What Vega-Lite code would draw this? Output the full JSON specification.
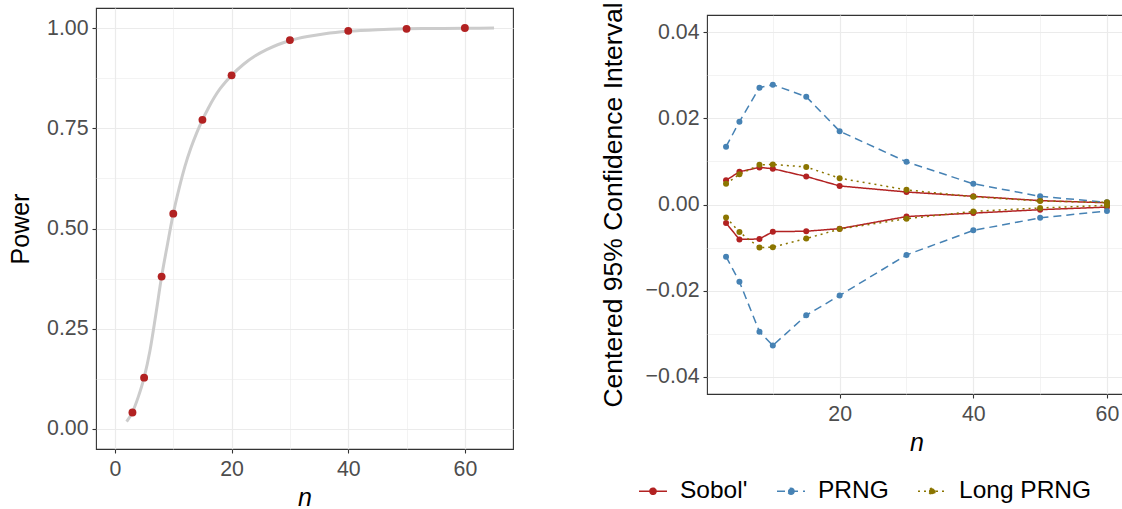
{
  "$schema": "https://vega.github.io/schema/vega-lite/v6.json",
  "autosize": {"type": "none"},
  "padding": {"left": 96, "top": 8, "right": 1026, "bottom": 501},
  "background": "white",
  "config": {
    "font": "Liberation Sans",
    "view": {"stroke": "#333333", "strokeWidth": 1.1},
    "axis": {
      "domain": false,
      "tickColor": "#333333",
      "tickSize": 4,
      "tickWidth": 1.1,
      "labelColor": "#4D4D4D",
      "labelFontSize": 21.3,
      "labelFont": "Liberation Sans",
      "labelFlush": false,
      "labelOverlap": false,
      "titleColor": "#000000",
      "titleFont": "Liberation Sans",
      "titleFontWeight": "normal",
      "gridColor": "#EBEBEB"
    }
  },
  "datasets": {
    "curve": [
      {"n": 2, "power": 0.018}, {"n": 3, "power": 0.042}, {"n": 4, "power": 0.08}, {"n": 5, "power": 0.128},
      {"n": 6, "power": 0.195}, {"n": 7, "power": 0.285}, {"n": 8, "power": 0.38}, {"n": 9, "power": 0.46},
      {"n": 10, "power": 0.537}, {"n": 11, "power": 0.6}, {"n": 12, "power": 0.655}, {"n": 13, "power": 0.7},
      {"n": 14, "power": 0.738}, {"n": 15, "power": 0.771}, {"n": 16, "power": 0.8}, {"n": 17, "power": 0.826},
      {"n": 18, "power": 0.848}, {"n": 19, "power": 0.866}, {"n": 20, "power": 0.882}, {"n": 22, "power": 0.909},
      {"n": 24, "power": 0.93}, {"n": 26, "power": 0.946}, {"n": 28, "power": 0.959}, {"n": 30, "power": 0.969},
      {"n": 33, "power": 0.979}, {"n": 36, "power": 0.986}, {"n": 40, "power": 0.992}, {"n": 45, "power": 0.996},
      {"n": 50, "power": 0.998}, {"n": 55, "power": 0.999}, {"n": 60, "power": 0.9995}, {"n": 65, "power": 1.0}
    ],
    "power": [
      {"n": 3, "power": 0.041}, {"n": 5, "power": 0.128}, {"n": 8, "power": 0.38}, {"n": 10, "power": 0.537},
      {"n": 15, "power": 0.771}, {"n": 20, "power": 0.882}, {"n": 30, "power": 0.970}, {"n": 40, "power": 0.993},
      {"n": 50, "power": 0.998}, {"n": 60, "power": 1.0}
    ],
    "ci": [
      {"series": "Sobol'", "bound": "upper", "n": 3, "value": 0.0056},
      {"series": "Sobol'", "bound": "upper", "n": 5, "value": 0.0076},
      {"series": "Sobol'", "bound": "upper", "n": 8, "value": 0.0086},
      {"series": "Sobol'", "bound": "upper", "n": 10, "value": 0.0083},
      {"series": "Sobol'", "bound": "upper", "n": 15, "value": 0.0065},
      {"series": "Sobol'", "bound": "upper", "n": 20, "value": 0.0043},
      {"series": "Sobol'", "bound": "upper", "n": 30, "value": 0.0029},
      {"series": "Sobol'", "bound": "upper", "n": 40, "value": 0.0019},
      {"series": "Sobol'", "bound": "upper", "n": 50, "value": 0.0009},
      {"series": "Sobol'", "bound": "upper", "n": 60, "value": 0.0004},
      {"series": "Sobol'", "bound": "lower", "n": 3, "value": -0.0043},
      {"series": "Sobol'", "bound": "lower", "n": 5, "value": -0.0081},
      {"series": "Sobol'", "bound": "lower", "n": 8, "value": -0.0080},
      {"series": "Sobol'", "bound": "lower", "n": 10, "value": -0.0063},
      {"series": "Sobol'", "bound": "lower", "n": 15, "value": -0.0062},
      {"series": "Sobol'", "bound": "lower", "n": 20, "value": -0.0056},
      {"series": "Sobol'", "bound": "lower", "n": 30, "value": -0.0028},
      {"series": "Sobol'", "bound": "lower", "n": 40, "value": -0.0020},
      {"series": "Sobol'", "bound": "lower", "n": 50, "value": -0.0012},
      {"series": "Sobol'", "bound": "lower", "n": 60, "value": -0.0006},
      {"series": "PRNG", "bound": "upper", "n": 3, "value": 0.0134},
      {"series": "PRNG", "bound": "upper", "n": 5, "value": 0.0192},
      {"series": "PRNG", "bound": "upper", "n": 8, "value": 0.0271},
      {"series": "PRNG", "bound": "upper", "n": 10, "value": 0.0278},
      {"series": "PRNG", "bound": "upper", "n": 15, "value": 0.0250},
      {"series": "PRNG", "bound": "upper", "n": 20, "value": 0.0170},
      {"series": "PRNG", "bound": "upper", "n": 30, "value": 0.0099},
      {"series": "PRNG", "bound": "upper", "n": 40, "value": 0.0048},
      {"series": "PRNG", "bound": "upper", "n": 50, "value": 0.0019},
      {"series": "PRNG", "bound": "upper", "n": 60, "value": 0.0005},
      {"series": "PRNG", "bound": "lower", "n": 3, "value": -0.0121},
      {"series": "PRNG", "bound": "lower", "n": 5, "value": -0.0179},
      {"series": "PRNG", "bound": "lower", "n": 8, "value": -0.0295},
      {"series": "PRNG", "bound": "lower", "n": 10, "value": -0.0327},
      {"series": "PRNG", "bound": "lower", "n": 15, "value": -0.0257},
      {"series": "PRNG", "bound": "lower", "n": 20, "value": -0.0211},
      {"series": "PRNG", "bound": "lower", "n": 30, "value": -0.0117},
      {"series": "PRNG", "bound": "lower", "n": 40, "value": -0.0060},
      {"series": "PRNG", "bound": "lower", "n": 50, "value": -0.0031},
      {"series": "PRNG", "bound": "lower", "n": 60, "value": -0.0015},
      {"series": "Long PRNG", "bound": "upper", "n": 3, "value": 0.0048},
      {"series": "Long PRNG", "bound": "upper", "n": 5, "value": 0.0070},
      {"series": "Long PRNG", "bound": "upper", "n": 8, "value": 0.0092},
      {"series": "Long PRNG", "bound": "upper", "n": 10, "value": 0.0093},
      {"series": "Long PRNG", "bound": "upper", "n": 15, "value": 0.0087},
      {"series": "Long PRNG", "bound": "upper", "n": 20, "value": 0.0061},
      {"series": "Long PRNG", "bound": "upper", "n": 30, "value": 0.0034},
      {"series": "Long PRNG", "bound": "upper", "n": 40, "value": 0.0018},
      {"series": "Long PRNG", "bound": "upper", "n": 50, "value": 0.0008},
      {"series": "Long PRNG", "bound": "upper", "n": 60, "value": 0.0005},
      {"series": "Long PRNG", "bound": "lower", "n": 3, "value": -0.0030},
      {"series": "Long PRNG", "bound": "lower", "n": 5, "value": -0.0064},
      {"series": "Long PRNG", "bound": "lower", "n": 8, "value": -0.0100},
      {"series": "Long PRNG", "bound": "lower", "n": 10, "value": -0.0099},
      {"series": "Long PRNG", "bound": "lower", "n": 15, "value": -0.0079},
      {"series": "Long PRNG", "bound": "lower", "n": 20, "value": -0.0057},
      {"series": "Long PRNG", "bound": "lower", "n": 30, "value": -0.0033},
      {"series": "Long PRNG", "bound": "lower", "n": 40, "value": -0.0016},
      {"series": "Long PRNG", "bound": "lower", "n": 50, "value": -0.0008},
      {"series": "Long PRNG", "bound": "lower", "n": 60, "value": -0.0002}
    ]
  },
  "spacing": 85,
  "hconcat": [
    {
      "width": 417,
      "height": 441,
      "layer": [
        {
          "data": {"name": "curve"},
          "mark": {"type": "line", "color": "#CCCCCC", "strokeWidth": 3, "interpolate": "monotone"},
          "encoding": {
            "x": {
              "field": "n", "type": "quantitative", "title": "n",
              "scale": {"domain": [-3.25, 68.25], "nice": false, "zero": false},
              "axis": {
                "values": [0, 10, 20, 30, 40, 50, 60],
                "format": "d",
                "labelExpr": "datum.value % 20 == 0 ? datum.label : ''",
                "tickOpacity": {"condition": {"test": "datum.value % 20 != 0", "value": 0}, "value": 1},
                "gridWidth": {"condition": {"test": "datum.value % 20 != 0", "value": 0.6}, "value": 1.2},
                "labelPadding": 5,
                "titlePadding": 6,
                "titleFontSize": 25,
                "titleFontStyle": "italic"
              }
            },
            "y": {
              "field": "power", "type": "quantitative", "title": "Power",
              "scale": {"domain": [-0.05, 1.05], "nice": false, "zero": false},
              "axis": {
                "values": [0, 0.125, 0.25, 0.375, 0.5, 0.625, 0.75, 0.875, 1],
                "format": ".2f",
                "labelExpr": "round(datum.value * 8) % 2 == 1 ? '' : datum.label",
                "tickOpacity": {"condition": {"test": "round(datum.value * 8) % 2 == 1", "value": 0}, "value": 1},
                "gridWidth": {"condition": {"test": "round(datum.value * 8) % 2 == 1", "value": 0.6}, "value": 1.2},
                "labelPadding": 4,
                "titlePadding": 13,
                "titleFontSize": 25
              }
            }
          }
        },
        {
          "data": {"name": "power"},
          "mark": {"type": "circle", "color": "#B22222", "size": 62, "opacity": 1},
          "encoding": {
            "x": {"field": "n", "type": "quantitative"},
            "y": {"field": "power", "type": "quantitative"}
          }
        }
      ]
    },
    {
      "vconcat": [
        {
          "width": 419,
          "height": 1,
          "data": {"values": []},
          "mark": "point",
          "view": {"stroke": null}
        },
        {
          "width": 419,
          "height": 379,
          "data": {"name": "ci"},
          "encoding": {
            "x": {
              "field": "n", "type": "quantitative", "title": "n",
              "scale": {"domain": [0.15, 62.85], "nice": false, "zero": false},
              "axis": {
                "values": [10, 20, 30, 40, 50, 60],
                "format": "d",
                "labelExpr": "datum.value % 20 == 0 ? datum.label : ''",
                "tickOpacity": {"condition": {"test": "datum.value % 20 != 0", "value": 0}, "value": 1},
                "gridWidth": {"condition": {"test": "datum.value % 20 != 0", "value": 0.6}, "value": 1.2},
                "labelPadding": 5,
                "titlePadding": 6,
                "titleFontSize": 25,
                "titleFontStyle": "italic"
              }
            },
            "y": {
              "field": "value", "type": "quantitative", "title": "Centered 95% Confidence Interval",
              "scale": {"domain": [-0.04395, 0.04395], "nice": false, "zero": false},
              "axis": {
                "values": [-0.04, -0.03, -0.02, -0.01, 0, 0.01, 0.02, 0.03, 0.04],
                "format": ".2f",
                "labelExpr": "abs(round(datum.value * 100)) % 2 == 1 ? '' : datum.label",
                "tickOpacity": {"condition": {"test": "abs(round(datum.value * 100)) % 2 == 1", "value": 0}, "value": 1},
                "gridWidth": {"condition": {"test": "abs(round(datum.value * 100)) % 2 == 1", "value": 0.6}, "value": 1.2},
                "labelPadding": 4,
                "titlePadding": 18,
                "titleFontSize": 26.5
              }
            },
            "color": {
              "field": "series", "type": "nominal", "title": null,
              "scale": {"domain": ["Sobol'", "PRNG", "Long PRNG"], "range": ["#B22222", "#4682B4", "#8B7500"]},
              "legend": {
                "orient": "none", "legendX": 542, "legendY": 468, "direction": "horizontal",
                "symbolType": "M-1,0L1,0M0.22,0A0.22,0.22,0,1,1,-0.22,0A0.22,0.22,0,1,1,0.22,0Z",
                "symbolSize": 784, "symbolStrokeWidth": 1.5,
                "labelFontSize": 24.5, "labelColor": "#000000", "labelFont": "Liberation Sans",
                "labelOffset": 12, "columnPadding": 26, "padding": 0,
                "encode": {"symbols": {"update": {"fill": {"scale": "color", "field": "value"}, "stroke": {"scale": "color", "field": "value"}}}}
              }
            }
          },
          "layer": [
            {
              "mark": {"type": "line", "strokeWidth": 1.5},
              "encoding": {
                "detail": {"field": "bound"},
                "strokeDash": {
                  "field": "series", "type": "nominal", "title": null,
                  "scale": {"domain": ["Sobol'", "PRNG", "Long PRNG"], "range": [[1, 0], [8, 5], [2, 4]]},
                  "legend": {
                    "orient": "none", "legendX": 542, "legendY": 468, "direction": "horizontal",
                    "symbolType": "M-1,0L1,0M0.22,0A0.22,0.22,0,1,1,-0.22,0A0.22,0.22,0,1,1,0.22,0Z",
                    "symbolSize": 784, "symbolStrokeWidth": 1.5,
                    "labelFontSize": 24.5, "labelColor": "#000000", "labelFont": "Liberation Sans",
                    "labelOffset": 12, "columnPadding": 26, "padding": 0,
                    "encode": {"symbols": {"update": {"fill": {"scale": "color", "field": "value"}, "stroke": {"scale": "color", "field": "value"}}}}
                  }
                }
              }
            },
            {
              "mark": {"type": "circle", "size": 36, "opacity": 1}
            }
          ]
        }
      ],
      "spacing": 6,
      "bounds": "flush"
    }
  ]
}
